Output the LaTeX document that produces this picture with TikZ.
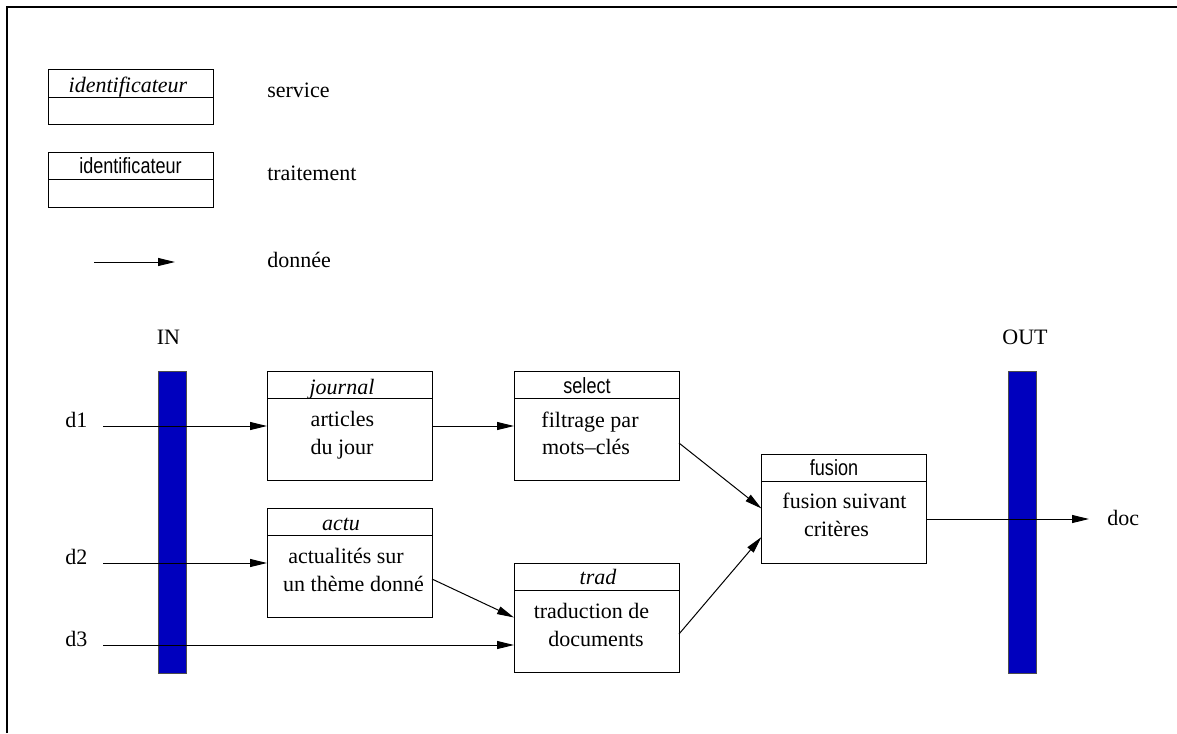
\documentclass[tikz,border=0pt]{standalone}
\usepackage{fontspec}
\setmainfont{Liberation Serif}
\newfontfamily\narrowsans[FakeStretch=0.82]{Liberation Sans}
\usetikzlibrary{arrows.meta,calc}
\definecolor{barblue}{RGB}{0,0,190}
\begin{document}
\begin{tikzpicture}[x=0.75pt,y=-0.75pt,
  font=\fontsize{16.5}{20}\selectfont,
  lbl/.style={inner sep=0pt,anchor=base west},
  ctr/.style={inner sep=0pt,anchor=base},
  procbox/.style={draw=black,line width=0.75pt,fill=white,inner sep=0pt,outer sep=0pt,
    minimum width=123.75pt,minimum height=81.75pt},
  legbox/.style={procbox,minimum height=41.25pt},
  bar/.style={draw=black!70,line width=0.75pt,fill=barblue,inner sep=0pt,outer sep=0pt,
    minimum width=21pt,minimum height=226.5pt},
  flow/.style={line width=0.75pt,-{Triangle[length=12.75pt,width=6pt]}},
  svc/.style={ctr,font=\fontsize{16.5}{20}\selectfont\itshape},
  trt/.style={ctr,font=\fontsize{16.5}{20}\selectfont\narrowsans}]
\useasboundingbox (0,0) rectangle (1177,733);
% frame
\draw[line width=1.5pt] (6.5,733) -- (6.5,6.5) -- (1177,6.5);

% legend
\node[legbox] (legsvc) at (130.5,96.5) {};
\draw[line width=0.75pt] ($(legsvc.north west)+(0,28)$) -- ($(legsvc.north east)+(0,28)$);
\node[svc] (legsvct) at (128,92) {identificateur};
\node[lbl] (legsvcl) at (267,97) {service};

\node[legbox] (legtrt) at (130.5,179.5) {};
\draw[line width=0.75pt] ($(legtrt.north west)+(0,27)$) -- ($(legtrt.north east)+(0,27)$);
\node[trt] (legtrtt) at (130.5,173) {identificateur};
\node[lbl] (legtrtl) at (267,180) {traitement};

\coordinate (legas) at (94,262);
\coordinate (legae) at (175,262);
\draw[flow] (legas) -- (legae);
\node[lbl] (legdl) at (267,267) {donnée};

% input / output bars
\node[bar] (inbar) at (172,522) {};
\node[bar] (outbar) at (1022,522) {};
\node[ctr] (inl) at (168.5,344) {IN};
\node[ctr] (outl) at (1025,344) {OUT};

% boxes
\node[procbox] (journal) at (349.5,426) {};
\node[procbox] (actu) at (349.5,563) {};
\node[procbox] (select) at (596.5,426) {};
\node[procbox] (trad) at (596.5,617.5) {};
\node[procbox] (fusion) at (844,508.5) {};
\foreach \b in {journal,actu,select,trad,fusion}
  \draw[line width=0.75pt] ($(\b.north west)+(0,27)$) -- ($(\b.north east)+(0,27)$);

\node[svc] (journalt) at (342,394) {journal};
\node[ctr] (journal1) at (342.5,426) {articles};
\node[ctr] (journal2) at (342,454) {du jour};

\node[svc] (actut) at (341,530) {actu};
\node[ctr] (actu1) at (346,563) {actualités sur};
\node[ctr] (actu2) at (353.5,591) {un thème donné};

\node[trt] (selectt) at (587,393) {select};
\node[ctr] (select1) at (590,427) {filtrage par};
\node[ctr] (select2) at (586,454) {mots--clés};

\node[svc] (tradt) at (598,584) {trad};
\node[ctr] (trad1) at (591.5,618) {traduction de};
\node[ctr] (trad2) at (596,646) {documents};

\node[trt] (fusiont) at (834,475) {fusion};
\node[ctr] (fusion1) at (844.5,508) {fusion suivant};
\node[ctr] (fusion2) at (836.5,536) {critères};

% data inputs
\node[lbl] (d1) at (65,427) {d1};
\node[lbl] (d2) at (65,564) {d2};
\node[lbl] (d3) at (65,646) {d3};
\coordinate (d1s) at (103,426);
\coordinate (d2s) at (103,563);
\coordinate (d3s) at (103,645);
\draw[flow] (d1s) -- (journal.west);
\draw[flow] (d2s) -- (actu.west);
\draw[flow] (d3s) -- (d3s -| trad.west);

% internal flows
\draw[flow] (journal.east) -- (select.west);
\draw[flow] ($(actu.east)+(0,16)$) -- (trad.west);
\draw[flow] ($(select.east)+(0,17)$) -- (fusion.west);
\draw[flow] ($(trad.east)+(0,16.5)$) -- ($(fusion.west)+(0,28.5)$);

% output
\coordinate (fuso) at ($(fusion.east)+(0,10.5)$);
\coordinate (doce) at (1089,519);
\draw[flow] (fuso) -- (doce);
\node[lbl] (docl) at (1107,525) {doc};
\end{tikzpicture}
\end{document}
